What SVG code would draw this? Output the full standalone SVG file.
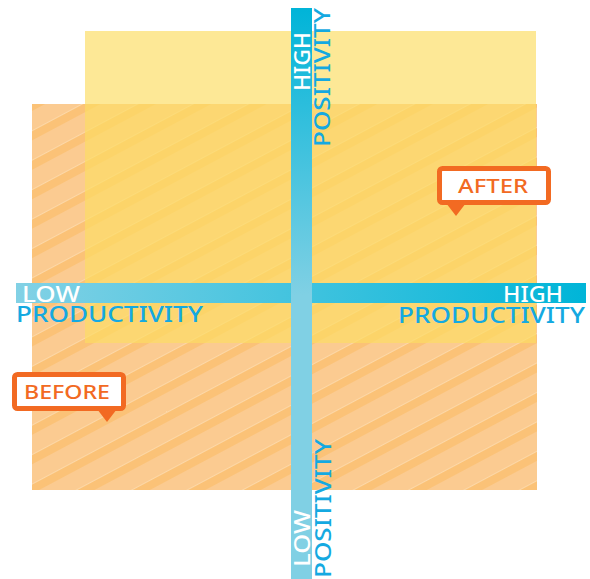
<svg xmlns="http://www.w3.org/2000/svg" width="590" height="579" viewBox="0 0 590 579">
  <defs>
    <!-- diagonal stripes for the "before" zone -->
    <pattern id="stripes" patternUnits="userSpaceOnUse" width="26" height="26" patternTransform="rotate(-28)">
      <rect width="26" height="26" fill="#FBCB91"/>
      <rect y="0" width="26" height="9" fill="#FBC277"/>
      <rect y="0" width="26" height="0.8" fill="#FFFFFF" fill-opacity="0.45"/>
    </pattern>
    <linearGradient id="hbar" x1="16" y1="0" x2="586" y2="0" gradientUnits="userSpaceOnUse">
      <stop offset="0" stop-color="#82D1E5"/>
      <stop offset="1" stop-color="#00B5D8"/>
    </linearGradient>
    <linearGradient id="vbar" x1="0" y1="8" x2="0" y2="295" gradientUnits="userSpaceOnUse">
      <stop offset="0" stop-color="#00B4D8"/>
      <stop offset="1" stop-color="#80D0E4"/>
    </linearGradient>
    <style>
      .lbl { font-family: "Noto Sans", "Open Sans", "DejaVu Sans", sans-serif; font-weight: 500; font-size: 22px; }
      .small { font-size: 21px; }
      .white { fill: #FFFFFF; }
      .blue { fill: #14A9E1; }
      .tag-box { fill: #FFFFFF; stroke: #F26A22; stroke-width: 5; }
      .tag-tip { fill: #F26A22; }
      .tag-text { font-family: "Noto Sans", "Open Sans", "DejaVu Sans", sans-serif; font-weight: 500; font-size: 20px; fill: #F26A22; }
    </style>
  </defs>

  <!-- zones -->
  <g id="zone-before">
    <rect x="32" y="104" width="505" height="386" fill="url(#stripes)"/>
  </g>
  <g id="zone-after">
    <rect x="85" y="31" width="451" height="312" fill="#FCDC62" fill-opacity="0.67"/>
  </g>

  <!-- axes -->
  <g id="axes">
    <rect x="16" y="283" width="570" height="20" fill="url(#hbar)"/>
    <rect x="291" y="8" width="21" height="571" fill="url(#vbar)"/>
  </g>

  <!-- axis labels -->
  <g id="label-low-productivity">
    <text class="lbl small white" x="22" y="302" textLength="58" lengthAdjust="spacingAndGlyphs">LOW</text>
    <text class="lbl blue" x="16" y="322" textLength="187" lengthAdjust="spacingAndGlyphs">PRODUCTIVITY</text>
  </g>
  <g id="label-high-productivity">
    <text class="lbl small white" x="503" y="302" textLength="60" lengthAdjust="spacingAndGlyphs">HIGH</text>
    <text class="lbl blue" x="398" y="323" textLength="187" lengthAdjust="spacingAndGlyphs">PRODUCTIVITY</text>
  </g>
  <g id="label-high-positivity">
    <text class="lbl small white" transform="translate(310,91) rotate(-90)" textLength="59" lengthAdjust="spacingAndGlyphs">HIGH</text>
    <text class="lbl blue" transform="translate(330,147) rotate(-90)" textLength="139" lengthAdjust="spacingAndGlyphs">POSITIVITY</text>
  </g>
  <g id="label-low-positivity">
    <text class="lbl small white" transform="translate(310,567) rotate(-90)" textLength="57" lengthAdjust="spacingAndGlyphs">LOW</text>
    <text class="lbl blue" transform="translate(331,578) rotate(-90)" textLength="139" lengthAdjust="spacingAndGlyphs">POSITIVITY</text>
  </g>

  <!-- callouts -->
  <g id="tag-after">
    <rect class="tag-box" x="439.5" y="168.5" width="109" height="34" rx="3"/>
    <polygon class="tag-tip" points="446,203 466,203 456,216"/>
    <text class="tag-text" x="458" y="193" textLength="70" lengthAdjust="spacingAndGlyphs">AFTER</text>
  </g>
  <g id="tag-before">
    <rect class="tag-box" x="14.5" y="374.5" width="109" height="34" rx="3"/>
    <polygon class="tag-tip" points="97,409 117,409 107,422"/>
    <text class="tag-text" x="24" y="399" textLength="86" lengthAdjust="spacingAndGlyphs">BEFORE</text>
  </g>
</svg>
